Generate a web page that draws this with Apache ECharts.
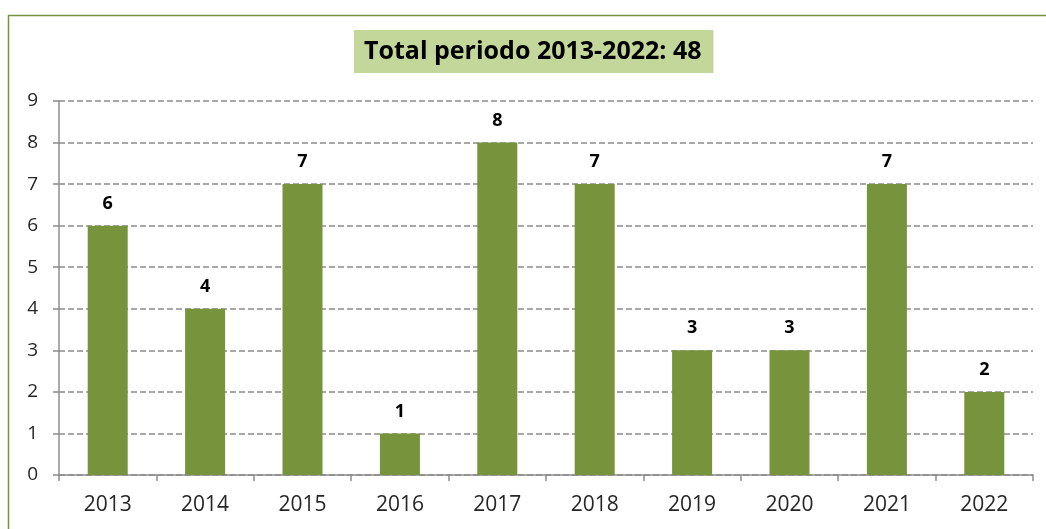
<!DOCTYPE html>
<html><head><meta charset="utf-8">
<script src="https://cdn.jsdelivr.net/npm/echarts@6/dist/echarts.min.js"></script>
<style>html,body{margin:0;padding:0;background:#fff}#c{width:1046px;height:529px}</style>
</head><body><div id="c"></div>
<script>
const categories = ['2013','2014','2015','2016','2017','2018','2019','2020','2021','2022'];
const values = [6,4,7,1,8,7,3,3,7,2];
const titleText = 'Total periodo 2013-2022: 48';
const yTicks = {min:0, max:9, interval:1};

const chart = echarts.init(document.getElementById('c'));
chart.setOption({
  animation:false,
  graphic:[{type:'rect',shape:{x:8.5,y:15.5,width:1100,height:600},style:{fill:'none',stroke:'#77933c',lineWidth:1.5},silent:true}],
  title:{text:titleText,left:354,top:30,backgroundColor:'#c4d79b',padding:[7,12,7,10],
    textStyle:{fontFamily:'Open Sans',fontWeight:'bold',fontSize:25,color:'#000',lineHeight:29}},
  grid:{left:59,right:13,top:101,bottom:54,containLabel:false},
  xAxis:{type:'category',data:categories,
    axisLine:{lineStyle:{color:'#8c8c8c',width:1.5}},
    axisTick:{show:true,length:6,lineStyle:{color:'#8c8c8c',width:1.5}},
    axisLabel:{color:'#262626',fontSize:21,fontFamily:'Open Sans',margin:20}},
  yAxis:{type:'value',min:yTicks.min,max:yTicks.max,interval:yTicks.interval,
    axisLine:{show:true,lineStyle:{color:'#8c8c8c',width:1.5}},
    axisTick:{show:true,length:6,lineStyle:{color:'#8c8c8c',width:1.5}},
    axisLabel:{color:'#262626',fontSize:19,fontFamily:'Open Sans',margin:21},
    splitLine:{lineStyle:{color:'#8c8c8c',type:[6,3],width:1.5}}},
  series:[{type:'bar',data:values,barWidth:40,itemStyle:{color:'#77933c'},
    label:{show:true,position:'top',distance:13,fontSize:18,fontWeight:'bold',color:'#000',fontFamily:'Open Sans'}}]
});
</script></body></html>
